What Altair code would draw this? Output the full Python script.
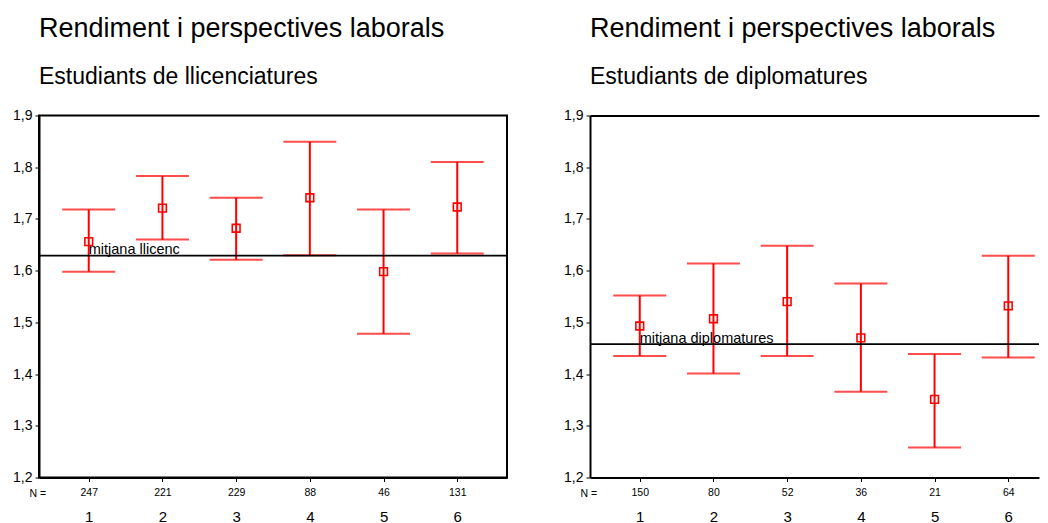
import altair as alt
import pandas as pd

FONT = "Liberation Sans"
RED = "#ff0000"

cats = [1, 2, 3, 4, 5, 6]
y_ticks = [1.2, 1.3, 1.4, 1.5, 1.6, 1.7, 1.8, 1.9]
title_text = "Rendiment i perspectives laborals"

sub_lic = "Estudiants de llicenciatures"
n_lic = [247, 221, 229, 88, 46, 131]
mean_lic = [1.656, 1.721, 1.682, 1.741, 1.598, 1.723]
lo_lic = [1.598, 1.660, 1.621, 1.630, 1.478, 1.633]
hi_lic = [1.718, 1.783, 1.741, 1.849, 1.718, 1.810]
overall_lic = 1.629
label_lic = "mitjana llicenc"

sub_dip = "Estudiants de diplomatures"
n_dip = [150, 80, 52, 36, 21, 64]
mean_dip = [1.493, 1.507, 1.540, 1.470, 1.351, 1.532]
lo_dip = [1.435, 1.401, 1.435, 1.366, 1.258, 1.432]
hi_dip = [1.552, 1.614, 1.648, 1.575, 1.439, 1.629]
overall_dip = 1.458
label_dip = "mitjana diplomatures"


def panel(subtitle, n, mean, lo, hi, overall, overall_label, x_max, width, framed):
    df = pd.DataFrame({"cat": cats, "mean": mean, "lo": lo, "hi": hi})
    mdf = pd.DataFrame({"m": [overall], "label": [overall_label]})
    xscale = alt.Scale(domain=[0.325, x_max], nice=False, zero=False)
    yscale = alt.Scale(domain=[1.2, 1.9], nice=False, zero=False)
    yaxis = alt.Axis(values=y_ticks, title=None, grid=False,
                     labelExpr="replace(format(datum.value, '.1f'), '.', ',')",
                     labelFontSize=14, labelPadding=3, tickSize=4, tickWidth=1)
    n_expr = "[" + ",".join("'%d'" % v for v in n) + "][datum.value - 1]"
    x_n_axis = alt.Axis(values=cats, labelExpr=n_expr, grid=False,
                        labelFontSize=10.5, labelPadding=5.5, tickSize=4, tickWidth=1,
                        labelBaseline="top",
                        title="N =", titleX=-10, titleY=18.5, titleAlign="left",
                        titleBaseline="alphabetic", titleFontSize=10.5,
                        titleFontWeight="normal", titleAnchor="start")
    x_cat_axis = alt.Axis(values=cats, format="d", orient="bottom", domain=False,
                          ticks=False, grid=False, labelPadding=32, labelFontSize=15,
                          labelBaseline="top", title=None)
    x_top_axis = alt.Axis(orient="top", labels=False, ticks=False, grid=False,
                          domain=True, title=None)
    base = alt.Chart(df)
    bars = base.mark_rule(color=RED, strokeWidth=2).encode(
        x=alt.X("cat:Q", scale=xscale, axis=x_n_axis),
        y=alt.Y("lo:Q", scale=yscale, axis=yaxis),
        y2="hi:Q",
    )
    cap_lo = base.mark_tick(color=RED, orient="horizontal", size=53, thickness=2).encode(
        x=alt.X("cat:Q", scale=xscale, axis=x_cat_axis),
        y=alt.Y("lo:Q", scale=yscale, axis=yaxis),
    )
    cap_hi = base.mark_tick(color=RED, orient="horizontal", size=53, thickness=2).encode(
        x=alt.X("cat:Q", scale=xscale, axis=None if framed else x_top_axis),
        y=alt.Y("hi:Q", scale=yscale, axis=yaxis),
    )
    mline = alt.Chart(mdf).mark_rule(color="black", strokeWidth=1.6).encode(
        y=alt.Y("m:Q", scale=yscale, axis=yaxis),
    )
    mtext = alt.Chart(mdf).mark_text(align="left", baseline="alphabetic", dy=-1.5,
                                     fontSize=14.5, font=FONT, color="black").encode(
        x=alt.X(datum=cats[0], scale=xscale, axis=None),
        y=alt.Y("m:Q", scale=yscale, axis=yaxis),
        text="label:N",
    )
    pts = base.mark_point(shape="square", filled=False, size=60, strokeWidth=1.6,
                          color=RED, opacity=1).encode(
        x=alt.X("cat:Q", scale=xscale, axis=None),
        y=alt.Y("mean:Q", scale=yscale, axis=yaxis),
    )
    layer = alt.layer(bars, cap_lo, cap_hi, mline, mtext, pts).resolve_axis(x="independent")
    props = dict(
        width=width,
        height=362,
        title=alt.TitleParams(text=title_text, subtitle=subtitle, anchor="start",
                              frame="group", font=FONT, fontSize=27, fontWeight="normal",
                              color="black", subtitleFont=FONT, subtitleFontSize=23,
                              subtitleColor="black", offset=19, subtitlePadding=22.5),
    )
    if not framed:
        props["view"] = alt.ViewBackground(strokeOpacity=0)
    return layer.properties(**props)


left = panel(sub_lic, n_lic, mean_lic, lo_lic, hi_lic, overall_lic, label_lic,
             6.675, 468, True)
right = panel(sub_dip, n_dip, mean_dip, lo_dip, hi_dip, overall_dip, label_dip,
              6.417, 449, False)

chart = alt.concat(left, right, columns=2, spacing=54, align="none").properties(
    padding={"left": 3, "top": 5.5, "right": 0, "bottom": 0},
    background="white",
).configure_view(stroke="black", strokeWidth=2).configure_axis(
    domainColor="black", domainWidth=2, tickColor="black", labelColor="black",
    titleColor="black", labelFont=FONT, titleFont=FONT,
)

chart.save("out.html", embed_options={"renderer": "svg", "actions": False})
